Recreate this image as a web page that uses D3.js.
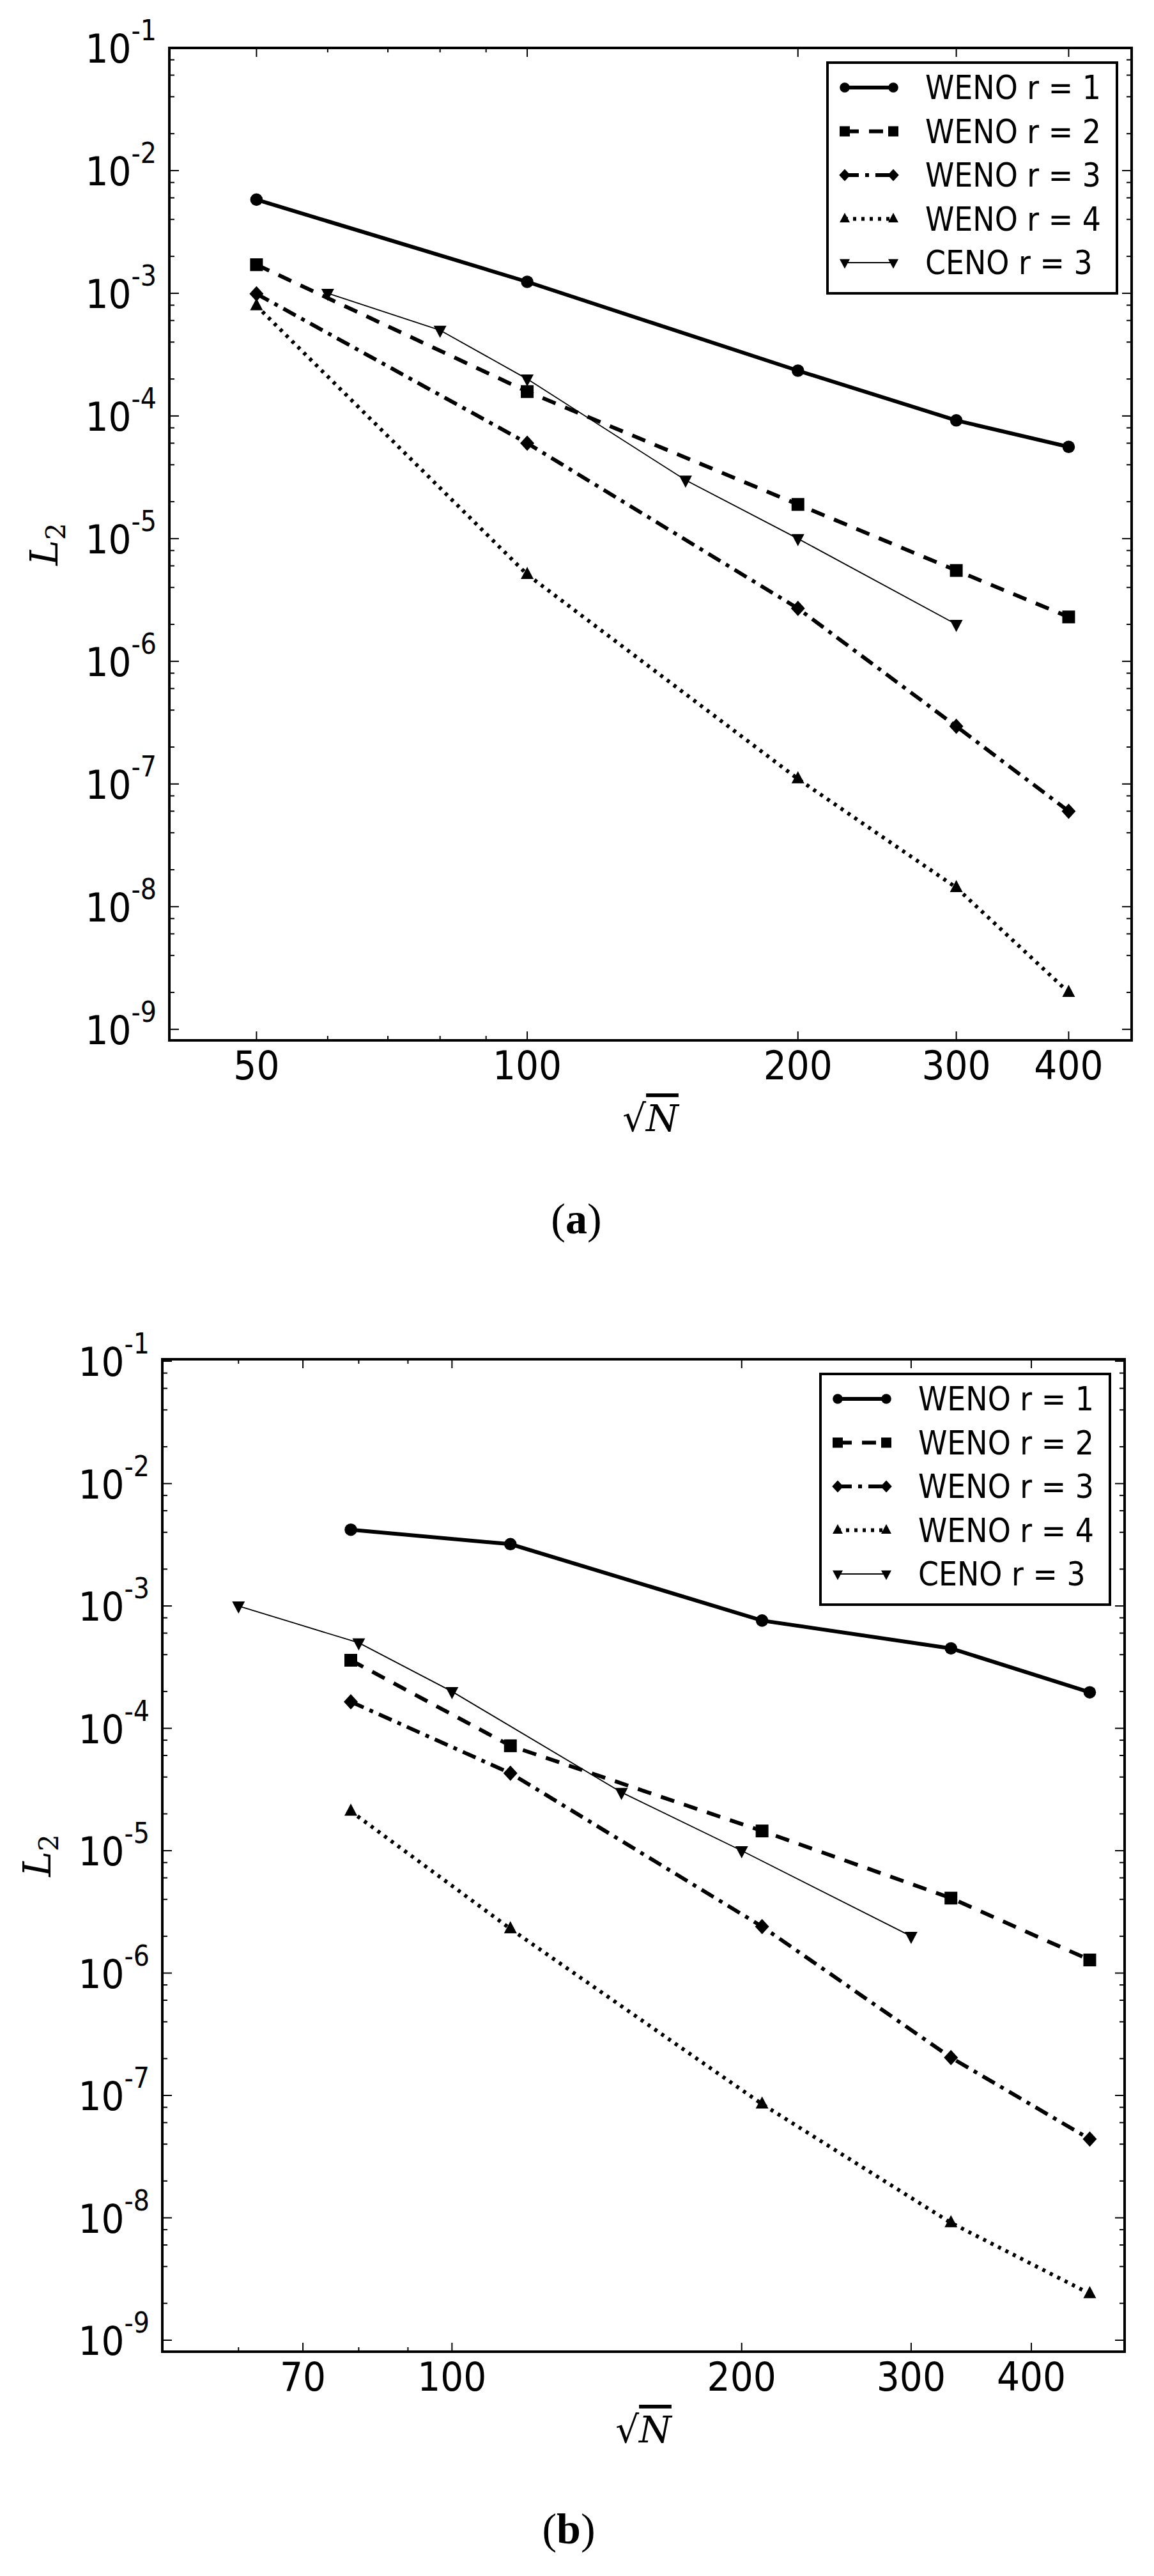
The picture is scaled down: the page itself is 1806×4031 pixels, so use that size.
<!DOCTYPE html>
<html><head><meta charset="utf-8">
<script src="https://cdn.jsdelivr.net/npm/d3@7"></script>
<style>body{margin:0;background:#fff}</style>
</head><body>
<svg id="c" width="1806" height="4031"></svg>
<script>
const seriesNames = ["WENO r = 1","WENO r = 2","WENO r = 3","WENO r = 4","CENO r = 3"];
// Panel (a)
const xA_weno = [50,100,200,300,400];
const a_weno1 = [5.8e-3,1.24e-3,2.34e-4,9.2e-5,5.6e-5];
const a_weno2 = [1.71e-3,1.58e-4,1.9e-5,5.5e-6,2.3e-6];
const a_weno3 = [9.9e-4,6.0e-5,2.7e-6,2.95e-7,6.0e-8];
const a_weno4 = [7.9e-4,5.1e-6,1.1e-7,1.43e-8,2.0e-9];
const xA_ceno = [60,80,100,150,200,300];
const a_ceno3 = [1.0e-3,5.0e-4,2.0e-4,3.0e-5,1.0e-5,2.0e-6];
// Panel (b)
const xB_weno = [78.5,115,210,330,460];
const b_weno1 = [4.2e-3,3.2e-3,7.6e-4,4.5e-4,1.97e-4];
const b_weno2 = [3.6e-4,7.2e-5,1.45e-5,4.1e-6,1.28e-6];
const b_weno3 = [1.65e-4,4.3e-5,2.4e-6,2.04e-7,4.4e-8];
const b_weno4 = [2.1e-5,2.3e-6,8.5e-8,9.1e-9,2.4e-9];
const xB_ceno = [60,80,100,150,200,300];
const b_ceno3 = [1.0e-3,5.0e-4,2.0e-4,3.0e-5,1.0e-5,2.0e-6];
// ticks
const yMajor = [-1,-2,-3,-4,-5,-6,-7,-8,-9];
const xTicksA = [50,100,200,300,400];
const xMinorA = [40,60,70,80,90];
const xTicksB = [70,100,200,300,400];
const xMinorB = [50,60,80,90];

const styles = [
 {w:6, dash:null, marker:"circle"},
 {w:6, dash:"22,16", marker:"square"},
 {w:6, dash:"22,10,6,10", marker:"diamond"},
 {w:6, dash:"5,8", marker:"tri"},
 {w:1.8, dash:null, marker:"tridown"}
];
const FONT = "'DejaVu Sans Condensed','DejaVu Sans',sans-serif";
const svg = d3.select("#c");

function markerPath(t){
  if(t==="circle") return d3.symbol(d3.symbolCircle, 300)();
  if(t==="square") return "M-10,-10H10V10H-10Z";
  if(t==="diamond") return "M0,-12L11,0L0,12L-11,0Z";
  if(t==="tri") return "M0,-12L10,7L-10,7Z";
  return "M0,12L10,-7L-10,-7Z";
}

function panel(o){
  const g = svg.append("g");
  const x = d3.scaleLog().domain(o.xd).range([o.l,o.r]);
  const y = d3.scaleLog().domain(o.yd).range([o.b,o.t]);
  const yMin=[]; yMajor.forEach(e=>{[2,4,6,8].forEach(m=>{const v=m*Math.pow(10,e-1); if(v>=o.yd[0]&&v<=o.yd[1]) yMin.push(v);});});
  const tick=(x1,y1,x2,y2)=>g.append("line").attr("x1",x1).attr("y1",y1).attr("x2",x2).attr("y2",y2).attr("stroke","#000").attr("stroke-width",2);
  yMajor.forEach(e=>{const v=Math.pow(10,e), yy=y(v); tick(o.l,yy,o.l+15,yy); tick(o.r,yy,o.r-15,yy);
    const t=g.append("text").attr("x",o.l-20).attr("y",yy+23).attr("text-anchor","end").attr("font-family",FONT).attr("font-size",63);
    t.append("tspan").text("10");
    t.append("tspan").attr("dy",-35).attr("font-size",44).text(String(e));
  });
  yMin.forEach(v=>{const yy=y(v); tick(o.l,yy,o.l+8,yy); tick(o.r,yy,o.r-8,yy);});
  o.xt.forEach(v=>{const xx=x(v); tick(xx,o.b,xx,o.b-14); tick(xx,o.t,xx,o.t+14);
    g.append("text").attr("x",xx).attr("y",o.b+61).attr("text-anchor","middle").attr("font-family",FONT).attr("font-size",63).text(v);});
  o.xm.forEach(v=>{const xx=x(v); tick(xx,o.b,xx,o.b-7); tick(xx,o.t,xx,o.t+7);});
  o.series.forEach((s,i)=>{
    const st=styles[i];
    const pts=s.x.map((xv,j)=>[x(xv),y(s.y[j])]);
    g.append("path").attr("d",d3.line()(pts)).attr("fill","none").attr("stroke","#000")
      .attr("stroke-width",st.w).attr("stroke-dasharray",st.dash);
    g.selectAll(null).data(pts).enter().append("path").attr("d",markerPath(st.marker))
      .attr("transform",d=>`translate(${d[0]},${d[1]})`).attr("fill","#000");
  });
  g.append("rect").attr("x",o.l).attr("y",o.t).attr("width",o.r-o.l).attr("height",o.b-o.t)
    .attr("fill","none").attr("stroke","#000").attr("stroke-width",4);
  const lx=o.r-23-453, ly=o.t+23;
  g.append("rect").attr("x",lx).attr("y",ly).attr("width",453).attr("height",361).attr("fill","#fff").attr("stroke","#000").attr("stroke-width",4);
  seriesNames.forEach((n,i)=>{
    const st=styles[i], yy=ly+39+i*68.5, x1=lx+27, x2=lx+103;
    g.append("line").attr("x1",x1).attr("x2",x2).attr("y1",yy).attr("y2",yy).attr("stroke","#000").attr("stroke-width",st.w).attr("stroke-dasharray",st.dash);
    [x1,x2].forEach(xx=>g.append("path").attr("d",markerPath(st.marker)).attr("transform",`translate(${xx},${yy}) scale(0.8)`).attr("fill","#000"));
    g.append("text").attr("x",lx+153).attr("y",yy+18).attr("font-family",FONT).attr("font-size",51).text(n);
  });
  const xl=g.append("text").attr("x",(o.l+o.r)/2).attr("y",o.b+142).attr("text-anchor","middle").attr("font-family","'DejaVu Serif',serif").attr("font-size",58);
  xl.append("tspan").text("√");
  xl.append("tspan").attr("font-style","italic").attr("text-decoration","overline").text("N");
  const yl=g.append("text").attr("transform",`translate(${o.l-175},${(o.t+o.b)/2}) rotate(-90)`).attr("text-anchor","middle").attr("font-family","'DejaVu Serif',serif").attr("font-size",60);
  yl.append("tspan").attr("font-style","italic").text("L");
  yl.append("tspan").attr("dy",12).attr("font-size",42).text("2");
  const cap=g.append("text").attr("x",o.capx).attr("y",o.capy).attr("text-anchor","middle").attr("font-family","'Liberation Serif','DejaVu Serif',serif").attr("font-size",68);
  cap.append("tspan").text("(");
  cap.append("tspan").attr("font-weight","bold").text(o.cap);
  cap.append("tspan").text(")");
}

panel({l:265,r:1771,t:75,b:1628,xd:[40,470],yd:[Math.pow(10,-9.09),0.1],xt:xTicksA,xm:xMinorA,
  series:[{x:xA_weno,y:a_weno1},{x:xA_weno,y:a_weno2},{x:xA_weno,y:a_weno3},{x:xA_weno,y:a_weno4},{x:xA_ceno,y:a_ceno3}],
  cap:"a",capx:902,capy:1930});
panel({l:254,r:1760,t:2127,b:3680,xd:[50,500],yd:[Math.pow(10,-9.094),Math.pow(10,-0.984)],xt:xTicksB,xm:xMinorB,
  series:[{x:xB_weno,y:b_weno1},{x:xB_weno,y:b_weno2},{x:xB_weno,y:b_weno3},{x:xB_weno,y:b_weno4},{x:xB_ceno,y:b_ceno3}],
  cap:"b",capx:890,capy:3980});
</script>
</body></html>
